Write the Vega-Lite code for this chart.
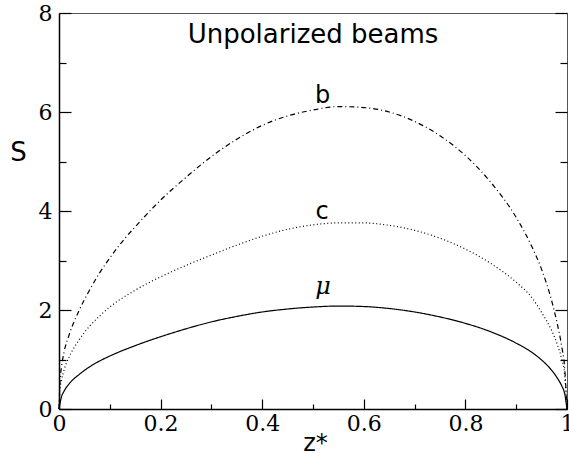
{
  "$schema": "https://vega.github.io/schema/vega-lite/v6.json",
  "width": 508,
  "height": 396,
  "autosize": {"type": "none"},
  "padding": {"left": 59, "top": 13, "right": 2, "bottom": 44},
  "background": "white",
  "config": {
    "view": {"stroke": "#555", "strokeWidth": 1},
    "axis": {"grid": false, "tickColor": "black", "domainColor": "black", "labelColor": "black", "titleColor": "black"}
  },
  "datasets": {
    "curves": [
      {"series": "μ", "z": 0, "S": 0}, {"series": "μ", "z": 0.005, "S": 0.25}, {"series": "μ", "z": 0.01, "S": 0.36},
      {"series": "μ", "z": 0.02, "S": 0.51}, {"series": "μ", "z": 0.04, "S": 0.7}, {"series": "μ", "z": 0.06, "S": 0.85},
      {"series": "μ", "z": 0.08, "S": 0.97}, {"series": "μ", "z": 0.1, "S": 1.07}, {"series": "μ", "z": 0.15, "S": 1.28},
      {"series": "μ", "z": 0.2, "S": 1.46}, {"series": "μ", "z": 0.25, "S": 1.62}, {"series": "μ", "z": 0.3, "S": 1.76},
      {"series": "μ", "z": 0.35, "S": 1.87}, {"series": "μ", "z": 0.4, "S": 1.96}, {"series": "μ", "z": 0.45, "S": 2.02},
      {"series": "μ", "z": 0.5, "S": 2.06}, {"series": "μ", "z": 0.55, "S": 2.08}, {"series": "μ", "z": 0.6, "S": 2.07},
      {"series": "μ", "z": 0.65, "S": 2.03}, {"series": "μ", "z": 0.7, "S": 1.96}, {"series": "μ", "z": 0.75, "S": 1.86},
      {"series": "μ", "z": 0.8, "S": 1.73}, {"series": "μ", "z": 0.85, "S": 1.56}, {"series": "μ", "z": 0.9, "S": 1.33},
      {"series": "μ", "z": 0.93, "S": 1.15}, {"series": "μ", "z": 0.95, "S": 0.99}, {"series": "μ", "z": 0.97, "S": 0.78},
      {"series": "μ", "z": 0.98, "S": 0.64}, {"series": "μ", "z": 0.99, "S": 0.46}, {"series": "μ", "z": 0.995, "S": 0.33},
      {"series": "μ", "z": 1, "S": 0},
      {"series": "c", "z": 0, "S": 0}, {"series": "c", "z": 0.002, "S": 0.38}, {"series": "c", "z": 0.005, "S": 0.58},
      {"series": "c", "z": 0.01, "S": 0.79}, {"series": "c", "z": 0.02, "S": 1.05}, {"series": "c", "z": 0.04, "S": 1.4},
      {"series": "c", "z": 0.06, "S": 1.67}, {"series": "c", "z": 0.08, "S": 1.88}, {"series": "c", "z": 0.1, "S": 2.06},
      {"series": "c", "z": 0.15, "S": 2.4}, {"series": "c", "z": 0.2, "S": 2.67}, {"series": "c", "z": 0.25, "S": 2.9},
      {"series": "c", "z": 0.3, "S": 3.11}, {"series": "c", "z": 0.35, "S": 3.31}, {"series": "c", "z": 0.4, "S": 3.49},
      {"series": "c", "z": 0.45, "S": 3.63}, {"series": "c", "z": 0.5, "S": 3.72}, {"series": "c", "z": 0.55, "S": 3.76},
      {"series": "c", "z": 0.6, "S": 3.76}, {"series": "c", "z": 0.65, "S": 3.71}, {"series": "c", "z": 0.7, "S": 3.61},
      {"series": "c", "z": 0.75, "S": 3.45}, {"series": "c", "z": 0.8, "S": 3.23}, {"series": "c", "z": 0.85, "S": 2.94},
      {"series": "c", "z": 0.9, "S": 2.56}, {"series": "c", "z": 0.93, "S": 2.26}, {"series": "c", "z": 0.95, "S": 1.95},
      {"series": "c", "z": 0.97, "S": 1.58}, {"series": "c", "z": 0.98, "S": 1.33}, {"series": "c", "z": 0.99, "S": 0.99},
      {"series": "c", "z": 0.995, "S": 0.73}, {"series": "c", "z": 1, "S": 0},
      {"series": "b", "z": 0, "S": 0}, {"series": "b", "z": 0.002, "S": 0.55}, {"series": "b", "z": 0.005, "S": 0.85},
      {"series": "b", "z": 0.01, "S": 1.15}, {"series": "b", "z": 0.02, "S": 1.5}, {"series": "b", "z": 0.04, "S": 2.0},
      {"series": "b", "z": 0.06, "S": 2.4}, {"series": "b", "z": 0.08, "S": 2.75}, {"series": "b", "z": 0.1, "S": 3.05},
      {"series": "b", "z": 0.13, "S": 3.45}, {"series": "b", "z": 0.15, "S": 3.68}, {"series": "b", "z": 0.2, "S": 4.22},
      {"series": "b", "z": 0.25, "S": 4.68}, {"series": "b", "z": 0.3, "S": 5.1}, {"series": "b", "z": 0.35, "S": 5.45},
      {"series": "b", "z": 0.4, "S": 5.73}, {"series": "b", "z": 0.45, "S": 5.92}, {"series": "b", "z": 0.5, "S": 6.04},
      {"series": "b", "z": 0.55, "S": 6.11}, {"series": "b", "z": 0.6, "S": 6.09}, {"series": "b", "z": 0.65, "S": 6.0},
      {"series": "b", "z": 0.7, "S": 5.81}, {"series": "b", "z": 0.75, "S": 5.52}, {"series": "b", "z": 0.8, "S": 5.12},
      {"series": "b", "z": 0.85, "S": 4.58}, {"series": "b", "z": 0.9, "S": 3.87}, {"series": "b", "z": 0.93, "S": 3.3},
      {"series": "b", "z": 0.95, "S": 2.82}, {"series": "b", "z": 0.97, "S": 2.18}, {"series": "b", "z": 0.98, "S": 1.76},
      {"series": "b", "z": 0.99, "S": 1.24}, {"series": "b", "z": 0.995, "S": 0.88}, {"series": "b", "z": 1, "S": 0}
    ],
    "labels": [
      {"t": "b", "z": 0.519, "S": 6.18},
      {"t": "c", "z": 0.518, "S": 3.83}
    ],
    "title": [
      {"t": "Unpolarized beams", "z": 0.5, "S": 7.4}
    ],
    "mu": [
      {"t": "μ", "z": 0.52, "S": 2.33}
    ]
  },
  "layer": [
    {
      "data": {"name": "curves"},
      "mark": {"type": "line", "color": "black", "strokeWidth": 1.2, "interpolate": "monotone"},
      "encoding": {
        "x": {"field": "z", "type": "quantitative", "scale": {"domain": [0, 1], "nice": false},
          "axis": {"orient": "bottom", "values": [0, 0.2, 0.4, 0.6, 0.8, 1], "format": ".1~f",
            "domainWidth": 1.5, "tickSize": -10, "tickWidth": 1.2, "labelPadding": 14,
            "labelFont": "DejaVu Serif", "labelFontSize": 22, "labelFlush": false,
            "title": "z*", "titleFont": "DejaVu Sans", "titleFontSize": 24, "titleFontWeight": "normal",
            "titleX": 256, "titleY": 41, "titleBaseline": "alphabetic", "titleAlign": "center"}},
        "y": {"field": "S", "type": "quantitative", "scale": {"domain": [0, 8], "nice": false},
          "axis": {"orient": "left", "values": [0, 2, 4, 6, 8], "domainWidth": 1.5, "tickSize": -12, "tickWidth": 1.2,
            "labelPadding": 19, "labelFont": "DejaVu Serif", "labelFontSize": 22,
            "title": "S", "titleAngle": 0, "titleFont": "DejaVu Sans", "titleFontSize": 26, "titleFontWeight": "normal",
            "titleX": -41, "titleY": 139, "titleBaseline": "middle", "titleAlign": "center"}},
        "detail": {"field": "series"},
        "strokeDash": {"field": "series", "type": "nominal",
          "scale": {"domain": ["b", "c", "μ"], "range": [[5, 3, 1, 3], [1, 2.5], [1, 0]]}, "legend": null}
      }
    },
    {
      "data": {"name": "labels"},
      "mark": {"type": "text", "font": "DejaVu Sans", "fontSize": 24, "baseline": "alphabetic", "align": "center", "color": "black"},
      "encoding": {
        "x": {"field": "z", "type": "quantitative",
          "axis": {"orient": "bottom", "values": [0.1, 0.3, 0.5, 0.7, 0.9], "tickSize": -5, "tickWidth": 1.2, "labels": false, "domain": false, "title": null}},
        "y": {"field": "S", "type": "quantitative",
          "axis": {"orient": "left", "values": [1, 3, 5, 7], "tickSize": -7, "tickWidth": 1.2, "labels": false, "domain": false, "title": null}},
        "text": {"field": "t"}
      }
    },
    {
      "data": {"name": "title"},
      "mark": {"type": "text", "font": "DejaVu Sans", "fontSize": 26, "baseline": "alphabetic", "align": "center", "color": "black"},
      "encoding": {
        "x": {"field": "z", "type": "quantitative", "axis": null},
        "y": {"field": "S", "type": "quantitative",
          "axis": {"orient": "right", "values": [0, 2, 4, 6, 8], "tickSize": -12, "tickWidth": 1.2, "labels": false, "domain": false, "title": null}},
        "text": {"field": "t"}
      }
    },
    {
      "data": {"name": "mu"},
      "mark": {"type": "text", "font": "DejaVu Serif", "fontSize": 24, "fontStyle": "italic", "baseline": "alphabetic", "align": "center", "color": "black"},
      "encoding": {
        "x": {"field": "z", "type": "quantitative", "axis": null},
        "y": {"field": "S", "type": "quantitative",
          "axis": {"orient": "right", "values": [1, 3, 5, 7], "tickSize": -7, "tickWidth": 1.2, "labels": false, "domain": false, "title": null}},
        "text": {"field": "t"}
      }
    }
  ],
  "resolve": {"axis": {"x": "independent", "y": "independent"}}
}
